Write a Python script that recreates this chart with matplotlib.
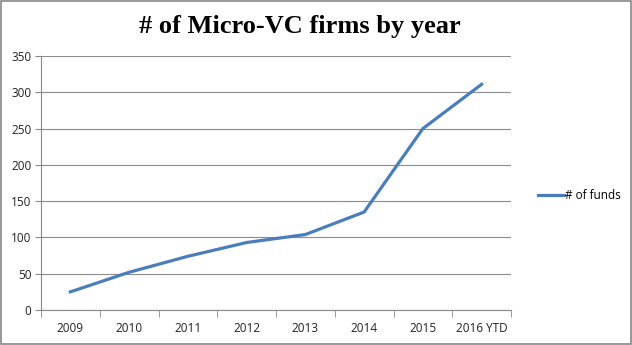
import numpy as np
import matplotlib.pyplot as plt
from matplotlib.patches import Rectangle

# datos
years = ["2009", "2010", "2011", "2012", "2013", "2014", "2015", "2016 YTD"]
funds = [25, 52, 74, 93, 104, 135, 250, 311]
yticks = [0, 50, 100, 150, 200, 250, 300, 350]

fig = plt.figure(figsize=(6.32, 3.45), dpi=100)
ax = fig.add_axes([41/632, 35/345, 470/632, 254/345])

x = np.arange(len(years))
ax.plot(x, funds, color="#4A7EBB", linewidth=2.3, label="# of funds")

ax.set_xlim(-0.5, len(years) - 0.5)
ax.set_ylim(0, 350)
ax.set_yticks(yticks)
ax.set_xticks(x)
ax.set_xticklabels(years)
ax.set_xticks(np.arange(-0.5, len(years)), minor=True)
ax.tick_params(axis="x", which="major", length=0, pad=9, labelsize=8.5)
ax.tick_params(axis="x", which="minor", length=5, color="#888888", direction="out")
ax.tick_params(axis="y", length=4, color="#888888", labelsize=8.5, pad=3)
for lab in ax.get_xticklabels() + ax.get_yticklabels():
    lab.set_fontfamily("Open Sans")
    lab.set_color("#222222")

ax.grid(True, axis="y", color="#8c8c8c", linewidth=0.8)
ax.set_axisbelow(True)
for s in ["top", "right"]:
    ax.spines[s].set_visible(False)
ax.spines["left"].set_color("#888888")
ax.spines["bottom"].set_color("#888888")

fig.text(300/632, 1 - 27/345, "# of Micro-VC firms by year", ha="center", va="center",
         fontsize=19, fontweight="bold", family="Liberation Serif")

leg = ax.legend(loc="center left", bbox_to_anchor=(1.035, 0.45), frameon=False,
                handlelength=2.2, handletextpad=0.1, prop={"family": "Open Sans", "size": 8.5})

# borde
fig.patches.append(Rectangle((0.001, 0.002), 0.997, 0.995, transform=fig.transFigure,
                             fill=False, edgecolor="#888888", linewidth=1.2))

fig.savefig("out.png", dpi=100)
